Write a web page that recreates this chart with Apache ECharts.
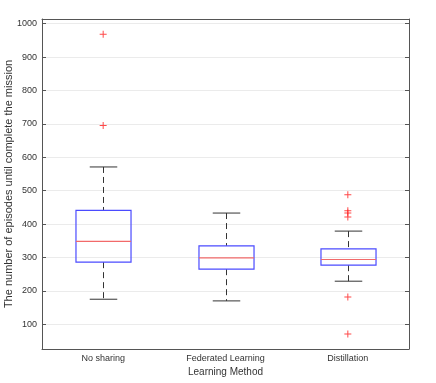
<!DOCTYPE html>
<html lang="en">
<head>
    <meta charset="UTF-8">
    <title>Boxplot</title>
    <script src="https://cdn.jsdelivr.net/npm/echarts@6/dist/echarts.min.js"></script>
    <style>
        html, body { margin: 0; padding: 0; background: #fff; }
    </style>
</head>
<body>
<div id="echart" style="width:436px;height:383px"></div>
<script>
    var categories = ['No sharing', 'Federated Learning', 'Distillation']
    // [lower whisker, Q1, median, Q3, upper whisker]
    var boxStats = [
        [175, 286, 348, 441, 571],
        [170, 265, 299, 335, 433],
        [229, 277, 294, 326, 379]
    ]
    var outliers = [
        [0, 968], [0, 695],
        [2, 488], [2, 440], [2, 433], [2, 421], [2, 182], [2, 71]
    ]
    var yTicks = [100, 200, 300, 400, 500, 600, 700, 800, 900, 1000]

    var myChart = echarts.init(document.getElementById('echart'))

    var boxData = boxStats.map(function (s, i) {
        return [i].concat(s)
    })

    function renderBox(params, api) {
        var i = api.value(0)
        var w = api.size([1, 0])[0] * 0.45
        var cap = w / 2
        var pLo = api.coord([i, api.value(1)])
        var pQ1 = api.coord([i, api.value(2)])
        var pMed = api.coord([i, api.value(3)])
        var pQ3 = api.coord([i, api.value(4)])
        var pHi = api.coord([i, api.value(5)])
        var x = Math.round(pMed[0]) + 0.5
        var dash = {stroke: '#333', lineWidth: 1, lineDash: [6, 4]}
        var solid = {stroke: '#333', lineWidth: 1}
        return {
            type: 'group',
            children: [
                {type: 'line', shape: {x1: x, y1: pHi[1], x2: x, y2: pQ3[1]}, style: dash},
                {type: 'line', shape: {x1: x, y1: pQ1[1], x2: x, y2: pLo[1]}, style: dash},
                {type: 'line', shape: {x1: x - cap / 2, y1: pHi[1], x2: x + cap / 2, y2: pHi[1]}, style: solid},
                {type: 'line', shape: {x1: x - cap / 2, y1: pLo[1], x2: x + cap / 2, y2: pLo[1]}, style: solid},
                {
                    type: 'rect',
                    shape: {x: x - w / 2, y: pQ3[1], width: w, height: pQ1[1] - pQ3[1]},
                    style: {fill: 'none', stroke: '#4b4bff', lineWidth: 1.2}
                },
                {
                    type: 'line',
                    shape: {x1: x - w / 2, y1: pMed[1], x2: x + w / 2, y2: pMed[1]},
                    style: {stroke: '#f26a6a', lineWidth: 1.2}
                }
            ]
        }
    }

    var axisColor = '#555'
    var textColor = '#333'

    myChart.setOption({
        animation: false,
        grid: {left: 42, right: 27, top: 19, bottom: 34, containLabel: false, outerBoundsMode: 'none'},
        xAxis: [{
            type: 'category',
            data: categories,
            position: 'bottom',
            name: 'Learning Method',
            nameLocation: 'middle',
            nameGap: 18,
            nameMoveOverlap: false,
            nameTextStyle: {fontFamily: 'Liberation Sans', fontSize: 10, color: textColor},
            axisLine: {lineStyle: {color: axisColor, width: 1}},
            axisTick: {inside: true, alignWithLabel: true, length: 4, lineStyle: {color: axisColor}},
            axisLabel: {fontFamily: 'Liberation Sans', fontSize: 9, color: textColor, margin: 5},
            splitLine: {show: false}
        }, {
            type: 'category',
            data: categories,
            position: 'top',
            axisLine: {lineStyle: {color: axisColor, width: 1}},
            axisTick: {inside: true, alignWithLabel: true, length: 4, lineStyle: {color: axisColor}},
            axisLabel: {show: false},
            splitLine: {show: false}
        }],
        yAxis: [{
            type: 'value',
            min: 26,
            max: 1014,
            position: 'left',
            name: 'The number of episodes until complete the mission',
            nameLocation: 'middle',
            nameGap: 28,
            nameMoveOverlap: false,
            nameTextStyle: {fontFamily: 'Liberation Sans', fontSize: 11, color: textColor},
            axisLine: {show: true, lineStyle: {color: axisColor, width: 1}},
            axisTick: {show: true, inside: true, length: 4, customValues: yTicks, lineStyle: {color: axisColor}},
            axisLabel: {
                fontFamily: 'Liberation Sans', fontSize: 9, color: textColor, margin: 5,
                customValues: yTicks,
                formatter: function (v) { return String(v) }
            },
            splitLine: {show: true, lineStyle: {color: '#ebebeb', width: 1}}
        }, {
            type: 'value',
            min: 26,
            max: 1014,
            position: 'right',
            axisLine: {show: true, lineStyle: {color: axisColor, width: 1}},
            axisTick: {show: true, inside: true, length: 4, customValues: yTicks, lineStyle: {color: axisColor}},
            axisLabel: {show: false},
            splitLine: {show: false}
        }],
        series: [{
            type: 'custom',
            renderItem: renderBox,
            data: boxData,
            encode: {x: 0, y: [1, 2, 3, 4, 5]},
            z: 3
        }, {
            type: 'scatter',
            data: outliers,
            symbol: 'path://M-0.14,-1H0.14V-0.14H1V0.14H0.14V1H-0.14V0.14H-1V-0.14H-0.14Z',
            symbolSize: 7,
            itemStyle: {color: '#ff1a1a'},
            z: 4
        }]
    })
</script>
</body>
</html>
